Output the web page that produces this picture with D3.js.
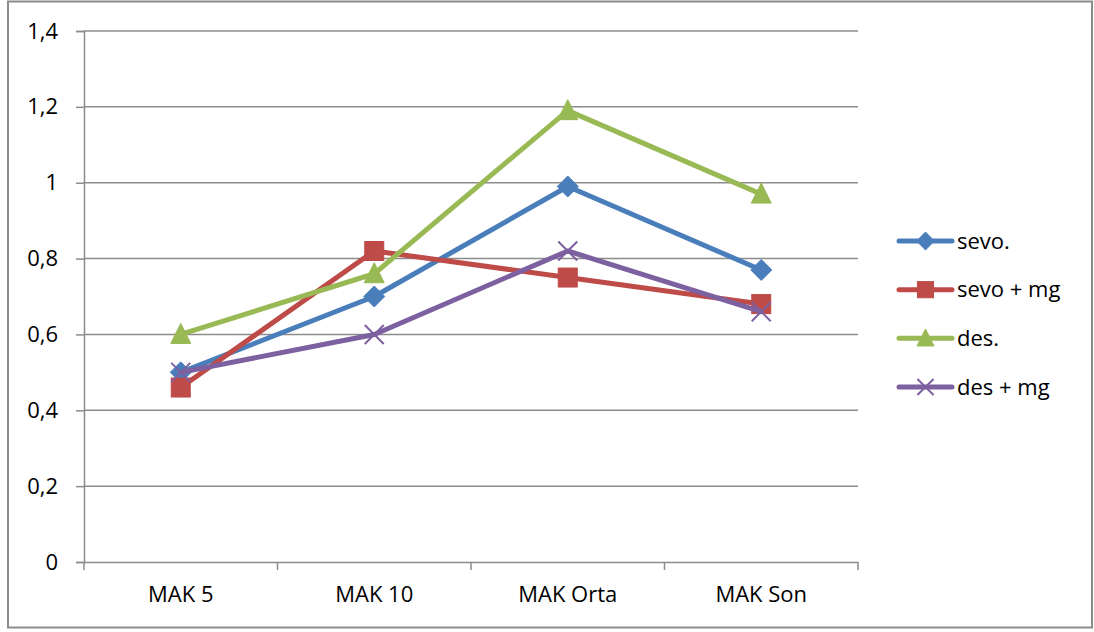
<!DOCTYPE html>
<html>
<head>
<meta charset="utf-8">
<script src="https://cdn.jsdelivr.net/npm/d3@7"></script>
<style>
  html, body { margin: 0; padding: 0; background: #fff; }
  svg { display: block; }
  text { font-family: "Open Sans", "Noto Sans", sans-serif; fill: #000; }
</style>
</head>
<body>
<svg id="chart" width="1094" height="632"></svg>
<script>
// MAK measurements by period for each anaesthesia group
const categories = ["MAK 5", "MAK 10", "MAK Orta", "MAK Son"];
const seriesNames = ["sevo.", "sevo + mg", "des.", "des + mg"];
const sevo = [0.50, 0.70, 0.99, 0.77];
const sevoMg = [0.46, 0.82, 0.75, 0.68];
const des = [0.60, 0.76, 1.19, 0.97];
const desMg = [0.50, 0.60, 0.82, 0.66];
const yTicks = [0, 0.2, 0.4, 0.6, 0.8, 1.0, 1.2, 1.4];
const yTickLabels = ["0", "0,2", "0,4", "0,6", "0,8", "1", "1,2", "1,4"];

const seriesValues = [sevo, sevoMg, des, desMg];
const colors = ["#4A7EBB", "#BE4B48", "#98B954", "#7D60A0"];
const markers = ["diamond", "square", "triangle", "cross"];

const svg = d3.select("#chart");

// outer chart frame
svg.append("rect")
  .attr("x", 8).attr("y", 1.5).attr("width", 1084).attr("height", 626)
  .attr("fill", "#fff").attr("stroke", "#8c8c8c").attr("stroke-width", 2);

const plot = { left: 84, right: 858, top: 31, bottom: 562 };

const x = d3.scaleBand().domain(categories).range([plot.left, plot.right]);
const y = d3.scaleLinear().domain([0, 1.4]).range([plot.bottom, plot.top]);

// horizontal gridlines
svg.append("g")
  .selectAll("line")
  .data(yTicks.filter(d => d > 0))
  .join("line")
  .attr("x1", plot.left).attr("x2", plot.right)
  .attr("y1", d => y(d)).attr("y2", d => y(d))
  .attr("stroke", "#8c8c8c").attr("stroke-width", 1.5);

// y axis
const yAxis = svg.append("g")
  .attr("transform", `translate(${plot.left},0)`)
  .call(d3.axisLeft(y).tickValues(yTicks)
    .tickFormat((d, i) => yTickLabels[i]).tickSize(8).tickPadding(18));
yAxis.select(".domain").attr("stroke", "#8c8c8c").attr("stroke-width", 1.5);
yAxis.selectAll(".tick line").attr("stroke", "#8c8c8c").attr("stroke-width", 1.5);
yAxis.selectAll(".tick text")
  .style("font-size", "22px").attr("fill", "#000");

// x axis
const xAxis = svg.append("g")
  .attr("transform", `translate(0,${plot.bottom})`)
  .call(d3.axisBottom(x).tickSize(0).tickPadding(24));
xAxis.select(".domain").attr("stroke", "#8c8c8c").attr("stroke-width", 1.5);
xAxis.selectAll(".tick text").style("font-size", "22px").attr("fill", "#000");

// category separators on x axis
const bounds = categories.map(c => x(c)).concat([x(categories[categories.length - 1]) + x.bandwidth()]);
svg.append("g")
  .selectAll("line")
  .data(bounds)
  .join("line")
  .attr("x1", d => d).attr("x2", d => d)
  .attr("y1", plot.bottom).attr("y2", plot.bottom + 8)
  .attr("stroke", "#8c8c8c").attr("stroke-width", 1.5);

const cx = c => x(c) + x.bandwidth() / 2;

function drawMarker(g, type, color, px, py, scale) {
  const s = scale || 1;
  if (type === "diamond") {
    const r = 10.5 * s;
    g.append("path")
      .attr("d", `M${px},${py - r}L${px + r},${py}L${px},${py + r}L${px - r},${py}Z`)
      .attr("fill", color).attr("stroke", color).attr("stroke-width", 1);
  } else if (type === "square") {
    const r = 9.5 * s;
    g.append("rect")
      .attr("x", px - r).attr("y", py - r).attr("width", 2 * r).attr("height", 2 * r)
      .attr("fill", color).attr("stroke", color).attr("stroke-width", 1);
  } else if (type === "triangle") {
    const r = 10 * s;
    g.append("path")
      .attr("d", `M${px},${py - r * 1.1}L${px + r},${py + r * 0.9}L${px - r},${py + r * 0.9}Z`)
      .attr("fill", color).attr("stroke", color).attr("stroke-width", 1);
  } else if (type === "cross") {
    const r = 9.5 * s;
    g.append("path")
      .attr("d", `M${px - r},${py - r}L${px + r},${py + r}M${px - r},${py + r}L${px + r},${py - r}`)
      .attr("stroke", color).attr("stroke-width", 2).attr("fill", "none");
  }
}

const line = d3.line().x((d, i) => cx(categories[i])).y(d => y(d));

seriesValues.forEach((vals, si) => {
  const g = svg.append("g");
  g.append("path")
    .datum(vals)
    .attr("d", line)
    .attr("fill", "none")
    .attr("stroke", colors[si])
    .attr("stroke-width", 5)
    .attr("stroke-linejoin", "round")
    .attr("stroke-linecap", "round");
  vals.forEach((v, i) => drawMarker(g, markers[si], colors[si], cx(categories[i]), y(v)));
});

// legend
const legend = svg.append("g");
const legendY = d3.scalePoint().domain(seriesNames).range([241, 387]);
seriesNames.forEach((name, si) => {
  const ly = legendY(name);
  legend.append("line")
    .attr("x1", 899).attr("x2", 952).attr("y1", ly).attr("y2", ly)
    .attr("stroke", colors[si]).attr("stroke-width", 5).attr("stroke-linecap", "round");
  drawMarker(legend, markers[si], colors[si], 925.5, ly, 0.85);
  legend.append("text")
    .attr("x", 957).attr("y", ly).attr("dy", "0.35em")
    .style("font-size", "22px").text(name);
});
</script>
</body>
</html>
